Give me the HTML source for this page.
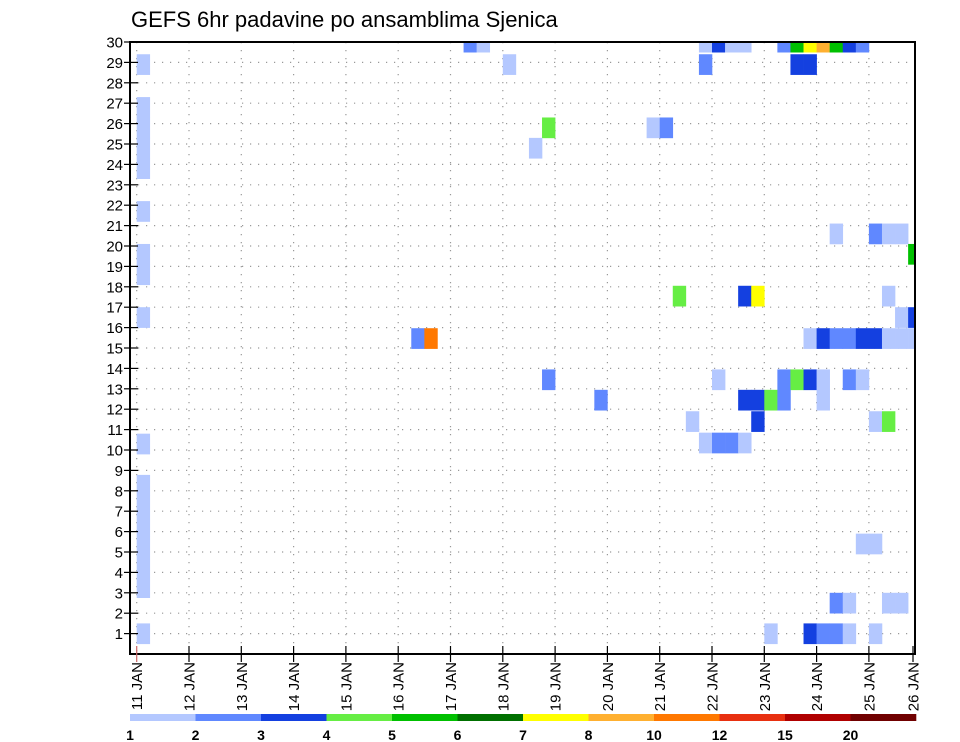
<!DOCTYPE html>
<html><head><meta charset="utf-8"><title>GEFS 6hr padavine</title>
<style>
html,body{margin:0;padding:0;background:#fff;}
svg{display:block;font-family:"Liberation Sans",sans-serif;}
</style></head>
<body>
<svg id="chart" width="960" height="742" viewBox="0 0 960 742" xmlns="http://www.w3.org/2000/svg">
<text x="131" y="27" font-size="22" fill="#000">GEFS 6hr padavine po ansamblima Sjenica</text>
<g id="grid"></g>
<g id="cells"></g>
<rect x="130" y="42" width="785" height="612" fill="none" stroke="#000" stroke-width="2"/>
<g id="yaxis"></g>
<g id="xaxis"></g>
<g id="legend"></g>
</svg>
<script>
// ---- data ----
const dayLabels = ["11 JAN","12 JAN","13 JAN","14 JAN","15 JAN","16 JAN","17 JAN","18 JAN","19 JAN","20 JAN","21 JAN","22 JAN","23 JAN","24 JAN","25 JAN","26 JAN"];
const memberTicks = [1,2,3,4,5,6,7,8,9,10,11,12,13,14,15,16,17,18,19,20,21,22,23,24,25,26,27,28,29,30];
const levels = [1,2,3,4,5,6,7,8,10,12,15,20];
const levelColors = ["#b4c8ff","#6088ff","#1440e0","#66ee44","#00c000","#007000","#ffff00","#ffb030","#ff7800","#e83010","#b00000","#700000"];
// cells: 6-hourly column index, member row position, precip value
const cellCol = [0,0,0,0,0,0,0,0,0,0,0,0,0,0,0,0,0,
 25,26,43,44,45,46,49,50,51,52,53,54,55,
 28,43,50,51,
 31,39,40,
 30,
 53,56,57,58,
 59,
 41,46,47,57,
 58,59,
 21,22,51,52,53,54,55,56,57,58,59,
 31,44,49,50,51,52,54,55,
 35,46,47,48,49,52,
 42,47,56,57,
 43,44,45,46,
 55,56,
 53,54,57,58,
 48,51,52,53,54,56];
const cellMember = [28.9,26.8,25.8,24.8,23.8,21.7,19.6,18.6,16.5,10.3,8.28,7.28,6.27,5.27,4.26,3.26,1.0,
 30,30,30,30,30,30,30,30,30,30,30,30,30,
 28.9,28.9,28.9,28.9,
 25.8,25.8,25.8,
 24.8,
 20.6,20.6,20.6,20.6,
 19.6,
 17.55,17.55,17.55,17.55,
 16.5,16.5,
 15.47,15.47,15.47,15.47,15.47,15.47,15.47,15.47,15.47,15.47,15.47,
 13.45,13.45,13.45,13.45,13.45,13.45,13.45,13.45,
 12.45,12.45,12.45,12.45,12.45,12.45,
 11.4,11.4,11.4,11.4,
 10.35,10.35,10.35,10.35,
 5.4,5.4,
 2.5,2.5,2.5,2.5,
 1.0,1.0,1.0,1.0,1.0,1.0];
const cellValue = [1.5,1.5,1.5,1.5,1.5,1.5,1.5,1.5,1.5,1.5,1.5,1.5,1.5,1.5,1.5,1.5,1.5,
 2.5,1.5,1.5,3.5,1.5,1.5,2.5,5.5,7.5,9,5.5,3.5,2.5,
 1.5,2.5,3.5,3.5,
 4.5,1.5,2.5,
 1.5,
 1.5,2.5,1.5,1.5,
 5.5,
 4.5,3.5,7.5,1.5,
 1.5,3.5,
 2.5,11,1.5,3.5,2.5,2.5,3.5,3.5,1.5,1.5,1.5,
 2.5,1.5,2.5,4.5,3.5,1.5,2.5,1.5,
 2.5,3.5,3.5,4.5,2.5,1.5,
 1.5,3.5,1.5,4.5,
 1.5,2.5,2.5,1.5,
 1.5,1.5,
 2.5,1.5,1.5,1.5,
 1.5,3.5,2.5,2.5,1.5,1.5];

// ---- axes ----
const NS="http://www.w3.org/2000/svg";
const X0=136.7, DAY=52.3, FL=130, FR=915, FT=42, FB=654, UNIT=20.4;
function xDay(d){return X0+d*DAY;}
function xCol(i){return X0+i*DAY/4;}
function yM(m){return FB-m*UNIT;}
function colorFor(v){let k=0;for(let i=0;i<levels.length;i++){if(v>=levels[i])k=i;}return levelColors[k];}
function mk(tag,attrs,parent){const e=document.createElementNS(NS,tag);for(const k in attrs)e.setAttribute(k,attrs[k]);parent.appendChild(e);return e;}

const grid=document.getElementById('grid');
memberTicks.forEach(m=>{ if(m<30){
  const l=mk('line',{x1:FL,x2:FR,y1:yM(m),y2:yM(m),stroke:'#999','stroke-width':1.2,'stroke-dasharray':'1.2,6.8'},grid);
  
  
}});
dayLabels.forEach((d,i)=>{ const x=xDay(i); if(x<FR){
  const l=mk('line',{x1:x,x2:x,y1:FT,y2:FB,stroke:'#999','stroke-width':1.2,'stroke-dasharray':'1.2,6.8'},grid);
  
  
}});

const cg=document.getElementById('cells');
const clip=mk('clipPath',{id:'pc'},cg);mk('rect',{x:FL,y:FT,width:FR-FL,height:FB-FT},clip);
const cells=mk('g',{'clip-path':'url(#pc)'},cg);
for(let i=0;i<cellCol.length;i++){
  const r=mk('rect',{x:xCol(cellCol[i]),y:yM(cellMember[i]+0.5),width:DAY/4+0.3,height:UNIT+0.3,fill:colorFor(cellValue[i])},cells);
  
  
}

const ya=document.getElementById('yaxis');
memberTicks.forEach(m=>{
  mk('line',{x1:FL-6,x2:FL+8,y1:yM(m),y2:yM(m),stroke:'#000','stroke-width':1.2},ya);
  const t=mk('text',{x:FL-7,y:yM(m)+5.5,'text-anchor':'end','font-size':15,fill:'#000'},ya);
  t.textContent=m;
  
  
});

const xa=document.getElementById('xaxis');
dayLabels.forEach((d,i)=>{
  const x=Math.min(xDay(i),FR-2);
  mk('line',{x1:x,x2:x,y1:FB-8,y2:FB+8,stroke:i==0?'#c66':'#000','stroke-width':1.2},xa);
  const t=mk('text',{x:0,y:0,'text-anchor':'end','font-size':15,fill:'#000',transform:'translate('+(x+5.5)+','+(FB+8)+') rotate(-90)'},xa);
  t.textContent=d;
  
  
});

const lg=document.getElementById('legend');
const LW=65.5, LX=130, LY=714;
levelColors.forEach((c,i)=>{
  const r=mk('rect',{x:LX+i*LW,y:LY,width:LW+0.3,height:7,fill:c},lg);
  
  
});
levels.forEach((v,i)=>{
  const t=mk('text',{x:LX+i*LW,y:LY+26,'text-anchor':'middle','font-size':14,'font-weight':'600',fill:'#000'},lg);
  t.textContent=v;
  
  
});
</script>
</body></html>
